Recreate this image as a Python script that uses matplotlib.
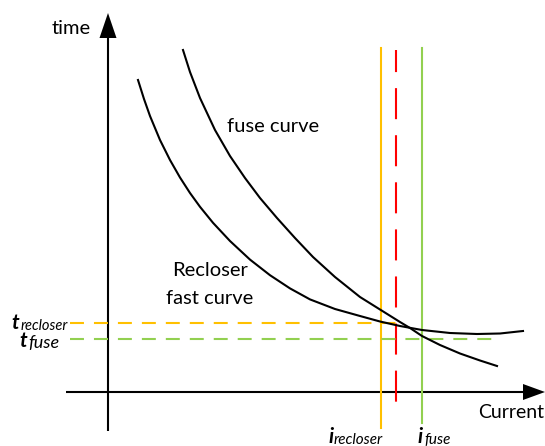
import matplotlib
matplotlib.use("Agg")
import matplotlib.pyplot as plt
import numpy as np

plt.rcParams['font.family'] = ['Lato', 'DejaVu Sans']

# curve points (pixel coords, y down)
fuse_x = [183, 190, 200, 215, 230, 245, 260, 277, 295, 313, 335, 360, 380, 400, 410, 422, 440, 460, 480, 497]
fuse_y = [50, 72, 98, 130, 156, 178, 198, 218, 238, 257, 277, 297, 309.5, 322, 328, 336, 345, 353.5, 360.5, 366]
rec_x = [138, 144, 150, 160, 170, 180, 190, 200, 213, 230, 250, 270, 290, 310, 335, 360, 380, 400, 422, 450, 477, 500, 523]
rec_y = [80, 99, 116, 140, 160, 177.5, 193, 206.8, 222.8, 241, 259.6, 275.2, 288.4, 299.4, 309, 316, 321.5, 326, 330, 333, 334, 333.5, 331]

# operating points
t_recloser, t_fuse = 323, 339
i_recloser, i_red, i_fuse = 381, 396, 422

ORANGE = '#FFC000'
GREEN = '#92D050'
RED = '#FF0000'

fig = plt.figure(figsize=(5.45, 4.46), dpi=100)
ax = fig.add_axes([0, 0, 1, 1])
ax.set_xlim(0, 545)
ax.set_ylim(446, 0)
ax.axis('off')

# axes with arrow heads
x0, y0 = 108, 392
ax.plot([x0, x0], [431, 36], color='black', lw=1.5, solid_capstyle='butt')
ax.fill([x0 - 8.5, x0 + 8.5, x0], [38, 38, 13], color='black', lw=0)
ax.plot([66, 525], [y0, y0], color='black', lw=1.5, solid_capstyle='butt')
ax.fill([523, 523, 545], [y0 - 8, y0 + 8, y0], color='black', lw=0)

# vertical current lines
ax.plot([i_recloser, i_recloser], [48, 428], color=ORANGE, lw=1.5)
ax.plot([i_fuse, i_fuse], [48, 423], color=GREEN, lw=1.5)
ax.plot([i_red, i_red], [50, 410], color=RED, lw=1.5,
        linestyle=(4.3, (14.9, 7.7)))

# horizontal time lines
ax.plot([70, 397], [t_recloser, t_recloser], color=ORANGE, lw=1.5,
        linestyle=(0, (6.7, 4.8)))
ax.plot([70, 493], [t_fuse, t_fuse], color=GREEN, lw=1.5,
        linestyle=(0, (6.7, 4.8)))

# curves
ax.plot(fuse_x, fuse_y, color='black', lw=1.5, solid_joinstyle='round')
ax.plot(rec_x, rec_y, color='black', lw=1.5, solid_joinstyle='round')

# labels
ax.text(71, 28, 'time', fontsize=14.5, ha='center', va='center')
ax.text(544, 413, 'Current', fontsize=14, ha='right', va='center')
ax.text(227, 127, 'fuse curve', fontsize=14.5, ha='left', va='center')
ax.text(210, 271, 'Recloser', fontsize=14.5, ha='center', va='center')
ax.text(210, 298, 'fast curve', fontsize=14.5, ha='center', va='center')

ax.text(11, 329, 't', fontsize=15, fontweight='bold', style='italic', ha='left', va='baseline')
ax.text(21, 330, 'recloser', fontsize=10.5, style='italic', ha='left', va='baseline')
ax.text(19, 347, 't', fontsize=15, fontweight='bold', style='italic', ha='left', va='baseline')
ax.text(28, 348, 'fuse', fontsize=13, style='italic', ha='left', va='baseline')

ax.text(328, 443, 'i', fontsize=15, fontweight='bold', style='italic', ha='left', va='baseline')
ax.text(334, 444, 'recloser', fontsize=11, style='italic', ha='left', va='baseline')
ax.text(417, 443, 'i', fontsize=15, fontweight='bold', style='italic', ha='left', va='baseline')
ax.text(424, 444, 'fuse', fontsize=11, style='italic', ha='left', va='baseline')

fig.savefig('out.png', dpi=100)
